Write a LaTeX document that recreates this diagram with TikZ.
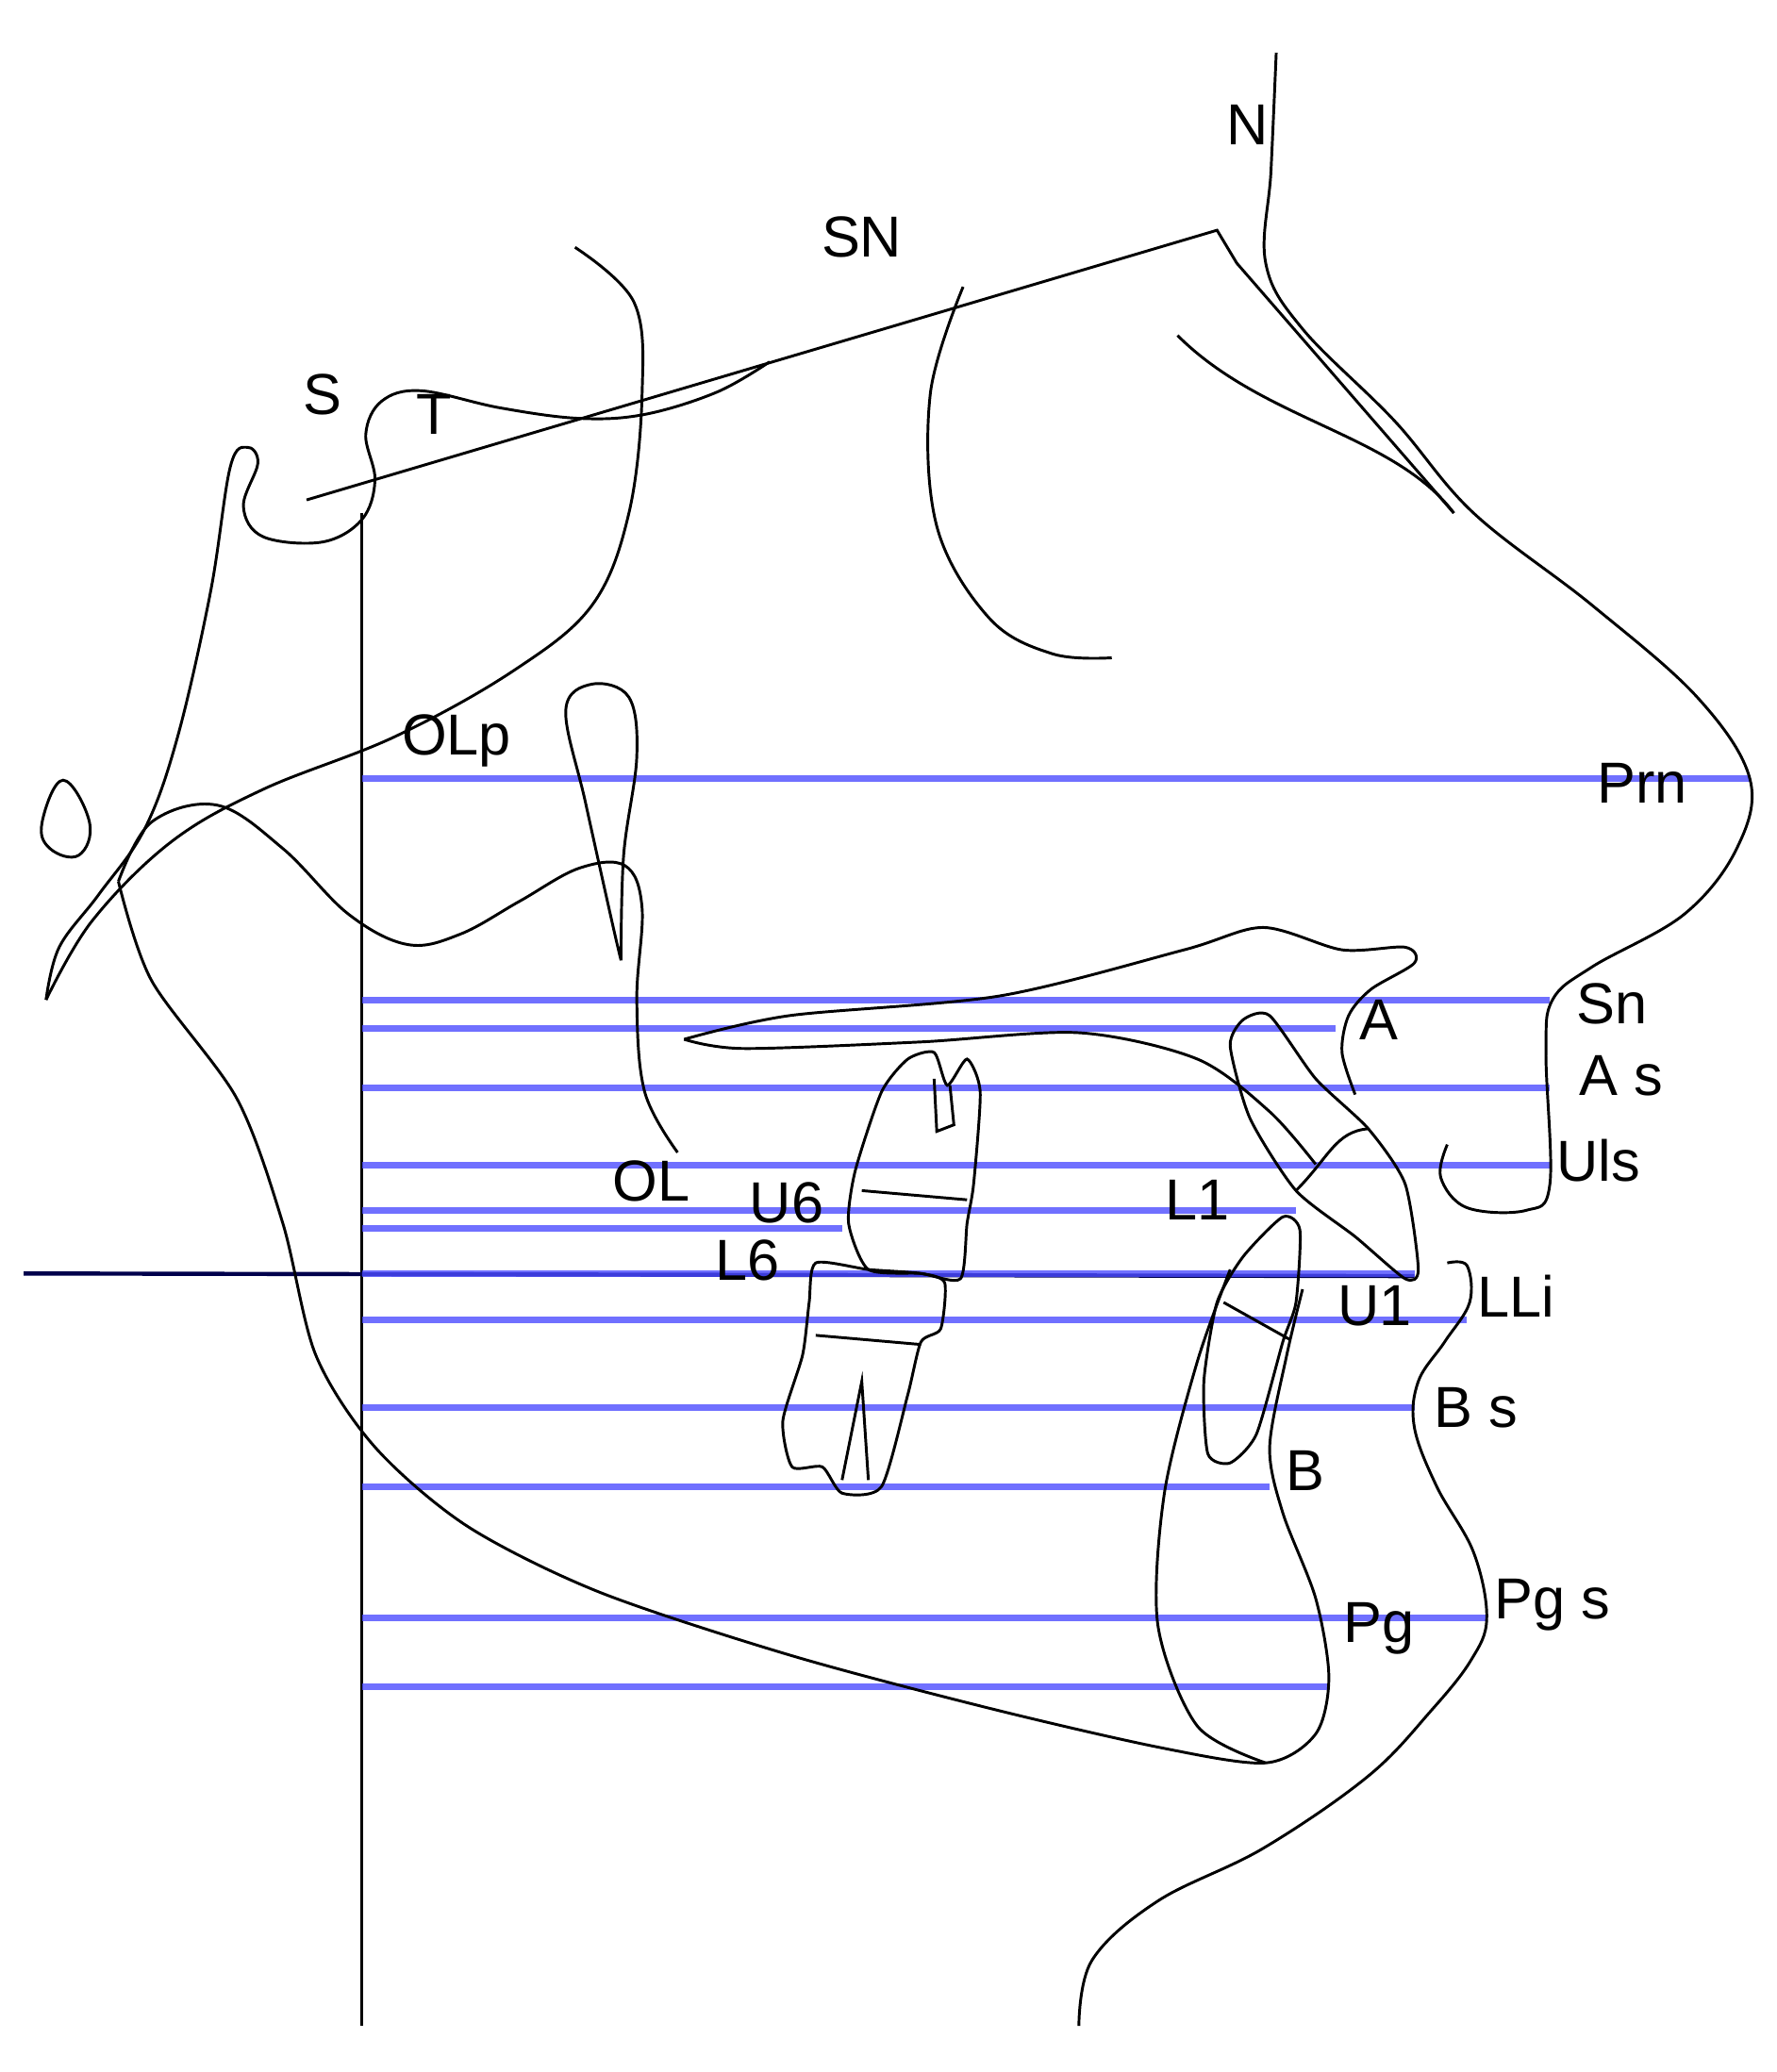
\documentclass[tikz,border=0pt]{standalone}
\usepackage{fontspec}
\setmainfont{Liberation Sans}
\begin{document}
\begin{tikzpicture}[x=0.01cm,y=-0.01cm,
  tr/.style={black,line width=0.6pt},
  bl/.style={blue!70!white,line width=1.4pt,opacity=0.8},
  lb/.style={font=\fontsize{12.5}{14}\selectfont,inner sep=0pt}]
\useasboundingbox (0,0) rectangle (1350,1575);
% reference lines
\draw[tr] (275,390) -- (275,1540);
\draw[tr] (233,380) -- (925,175) -- (940,200) -- (1105,390);
\draw[tr] (895,255) .. controls (960,320) and (1060,330) .. (1105,390);
\draw[tr,line width=0.9pt,blue!30!black] (18,968) -- (1075,970);
% blue horizontals
\foreach \y/\x in {592/1330,760/1178,782/1015,827/1178,886/1178,920/985,934/640,968/1075,1003/1115,1070/1075,1130/965,1230/1130,1282/1010}
  \draw[bl] (275,\y) -- (\x,\y);
% soft tissue profile
\draw[tr] plot[smooth,tension=0.6] coordinates {(970,40)(966,130)(962,200)(990,250)(1060,320)(1120,390)(1210,460)(1290,530)(1330,592)(1320,645)(1280,695)(1210,735)(1180,760)(1175,800)(1178,900)(1160,920)(1115,918)(1095,895)(1100,870)};
\draw[tr] plot[smooth,tension=0.6] coordinates {(1100,960)(1115,962)(1117,990)(1098,1020)(1078,1050)(1075,1085)(1092,1130)(1120,1180)(1130,1230)(1118,1262)(1088,1300)(1040,1350)(960,1405)(880,1445)(830,1490)(820,1540)};
% cranial base
\draw[tr] plot[smooth,tension=0.6] coordinates {(35,760)(45,720)(75,680)(110,630)(135,560)(160,450)(175,355)(188,340)(196,352)(185,385)(200,408)(245,412)(275,395)(285,365)(278,330)(290,305)(320,297)(380,310)(440,318)(490,315)(545,298)(585,275)};
\draw[tr] plot[smooth,tension=0.6] coordinates {(35,760)(70,700)(130,640)(200,600)(300,560)(390,510)(450,460)(478,390)(488,300)(482,230)(437,188)};
% orbit
\draw[tr] plot[smooth,tension=0.6] coordinates {(732,218)(707,300)(712,400)(752,470)(800,497)(845,500)};
% ear rod
\draw[tr] plot[smooth cycle,tension=0.7] coordinates {(48,593)(68,625)(60,650)(38,645)(32,625)};
% pterygoid teardrop
\draw[tr] plot[smooth,tension=0.6] coordinates {(472,730)(474,650)(484,575)(478,530)(450,520)(430,540)(445,610)(465,700)(472,730)};
% maxilla/ramus contour
\draw[tr] plot[smooth,tension=0.6] coordinates {(90,670)(115,625)(165,612)(215,645)(265,695)(310,718)(350,710)(395,685)(440,660)(475,658)(488,690)(484,760)(490,830)(515,876)};
% mandible
\draw[tr] plot[smooth,tension=0.5] coordinates {(90,670)(115,745)(180,835)(215,930)(240,1030)(285,1100)(355,1160)(455,1210)(600,1258)(750,1298)(880,1328)(962,1340)(1000,1318)(1010,1275)(1000,1215)(975,1150)(965,1100)(978,1030)(990,980)};
\draw[tr] plot[smooth,tension=0.5] coordinates {(962,1340)(910,1312)(880,1235)(885,1135)(910,1035)(935,965)};
% palate
\draw[tr] plot[smooth,tension=0.5] coordinates {(520,790)(600,772)(760,757)(900,722)(960,705)(1020,722)(1068,720)(1075,732)(1042,752)(1025,772)(1020,800)(1030,832)};
\draw[tr] plot[smooth,tension=0.5] coordinates {(520,790)(565,797)(700,792)(820,785)(910,805)(965,845)(1000,885)};
% U1
\draw[tr] plot[smooth cycle,tension=0.4] coordinates {(945,775)(965,772)(1000,820)(1040,858)(1068,900)(1078,965)(1068,972)(1030,940)(985,905)(950,850)(935,795)};
\draw[tr] (985,905) .. controls (1010,880) and (1015,860) .. (1040,858);
% L1
\draw[tr] plot[smooth cycle,tension=0.4] coordinates {(975,925)(988,935)(985,990)(975,1020)(955,1090)(935,1112)(918,1105)(915,1050)(925,990)(945,955)};
\draw[tr] (930,990) -- (980,1018);
% U6
\draw[tr] plot[smooth cycle,tension=0.4] coordinates {(690,805)(710,800)(720,825)(735,805)(745,830)(740,900)(735,930)(730,972)(700,968)(660,965)(645,930)(650,890)(670,830)};
\draw[tr] (710,820) -- (712,860) -- (725,855) -- (722,825);
\draw[tr] (655,905) -- (735,912);
% L6
\draw[tr] plot[smooth cycle,tension=0.4] coordinates {(620,960)(660,965)(700,968)(718,975)(715,1010)(700,1020)(690,1060)(670,1130)(640,1135)(625,1115)(602,1115)(595,1080)(610,1030)(615,990)};
\draw[tr] (620,1015) -- (700,1022);
\draw[tr] (640,1125) -- (655,1050) -- (660,1125);
% labels
\node[lb] (lN) at (948,95) {N};
\node[lb] (lSN) at (655,180) {SN};
\node[lb] (lS) at (245,300) {S};
\node[lb] (lT) at (330,315) {T};
\node[lb] (lOLp) at (347,563) {OLp};
\node[lb] (lPrn) at (1248,595) {Prn};
\node[lb] (lSn) at (1225,763) {Sn};
\node[lb] (lA) at (1048,775) {A};
\node[lb] (lAs) at (1232,818) {A s};
\node[lb] (lUls) at (1215,882) {Uls};
\node[lb] (lOL) at (495,898) {OL};
\node[lb] (lU6) at (598,914) {U6};
\node[lb] (lL1) at (910,912) {L1};
\node[lb] (lL6) at (568,958) {L6};
\node[lb] (lU1) at (1045,993) {U1};
\node[lb] (lLLi) at (1152,985) {LLi};
\node[lb] (lBs) at (1122,1070) {B s};
\node[lb] (lB) at (992,1118) {B};
\node[lb] (lPgs) at (1180,1220) {Pg s};
\node[lb] (lPg) at (1048,1238) {Pg};
\end{tikzpicture}
\end{document}
